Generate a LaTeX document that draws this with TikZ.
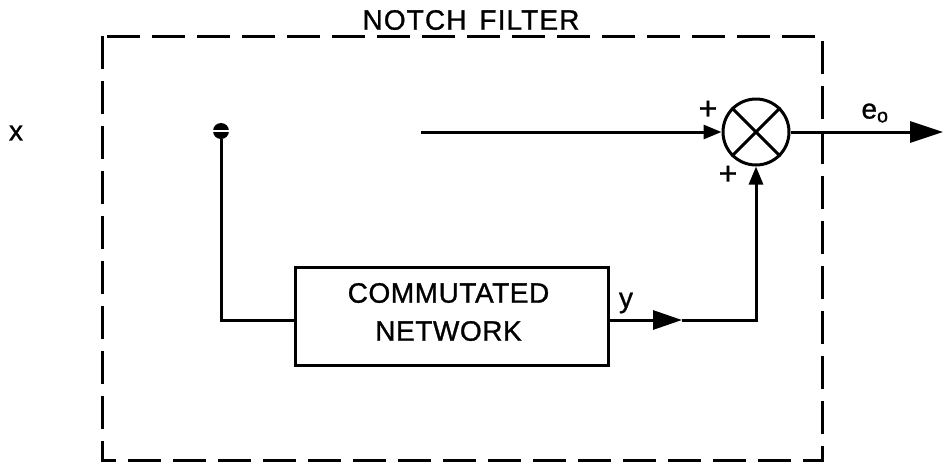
\documentclass[tikz,border=0pt]{standalone}
\usepackage{fontspec}
\setmainfont{Liberation Sans}[FakeBold=1.0]
\usetikzlibrary{arrows.meta}
\begin{document}
\begin{tikzpicture}[x=1pt,y=-1pt,
  wire/.style={line width=3pt},
  lbl/.style={font=\fontsize{28}{30}\selectfont, inner sep=0pt},
  spaced/.style={font=\fontsize{28}{38}\selectfont\addfontfeatures{LetterSpace=2}, inner sep=0pt, align=center},
  bigtip/.style={-{Triangle[length=33pt,width=21pt]}},
  midtip/.style={-{Triangle[length=29pt,width=19pt]}},
  smalltip/.style={-{Triangle[length=18pt,width=14pt]}}]
\useasboundingbox (0,0) rectangle (943,464);
% enclosure
\draw[line width=3pt, dash pattern=on 33pt off 12pt] (102,36) rectangle (822,460);
\node[lbl, font=\fontsize{28}{30}\selectfont\addfontfeatures{LetterSpace=4}] (title) at (471,20) {NOTCH\hspace{4pt} FILTER};
% input label
\node[lbl] (xin) at (16,133) {x};
% terminal
\node[circle, fill=black, minimum size=16pt, inner sep=0pt] (term) at (221,131) {};
\draw[white, line width=1.4pt] (term.west) -- (term.east);
\coordinate (c1) at (221,320);
% commutated network
\node[draw, wire, minimum width=313pt, minimum height=98pt, inner sep=0pt] (net) at (451.5,316) {};
\node[spaced] (nettxt) at (448.5,312) {COMMUTATED\\NETWORK};
% summing junction
\node[draw, wire, circle, minimum size=66pt, inner sep=0pt] (sum) at (756,132) {};
\draw[wire] (sum.north east) -- (sum.south west);
\draw[wire] (sum.north west) -- (sum.south east);
% connections
\coordinate (in) at (421,132);
\draw[wire, smalltip] (in) -- (sum.west);
\draw[wire] (term) -- (c1) -- (net.west |- c1);
\coordinate (ymid) at (682,320);
\coordinate (c2) at (756,320);
\draw[wire, midtip] (net.east |- ymid) -- (ymid);
\draw[wire, smalltip] (ymid) -- (c2) -- (sum.south);
\coordinate (out) at (943,132);
\draw[wire, bigtip] (sum.east) -- (out);
% labels
\node[lbl] (ylbl) at (626,303) {y};
\node[lbl] (eo) at (875,113) {e\textsubscript{o}};
\node[lbl, font=\fontsize{32}{32}\selectfont] (p1) at (708,110) {+};
\node[lbl, font=\fontsize{32}{32}\selectfont] (p2) at (728,175) {+};
\end{tikzpicture}
\end{document}
